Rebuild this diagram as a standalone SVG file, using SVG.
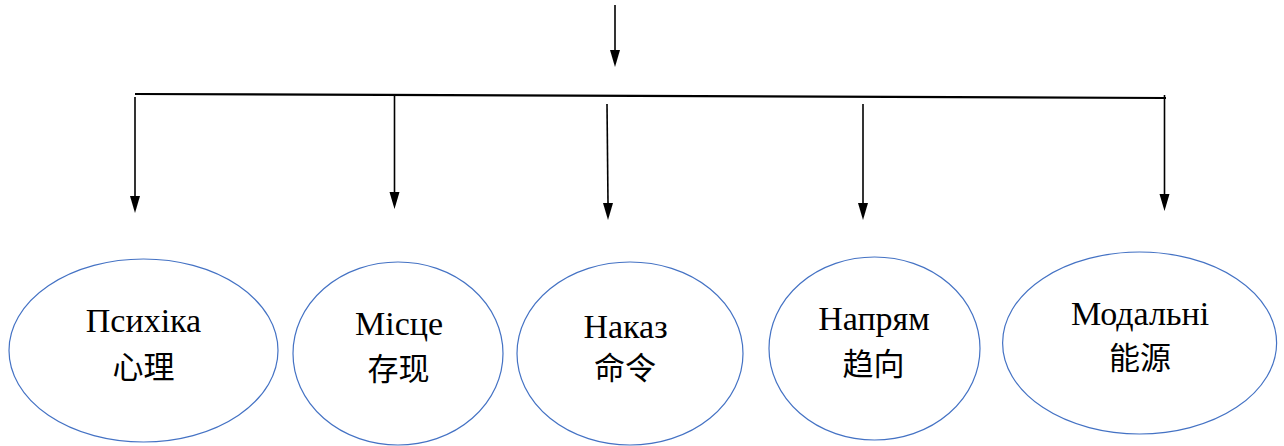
<svg xmlns="http://www.w3.org/2000/svg" width="1284" height="446" viewBox="0 0 1284 446">
<defs>
<style>
.conn{stroke:#000;stroke-width:1.6;fill:none}
.bar{stroke:#000;stroke-width:2.2;fill:none}
.head{fill:#000}
.node ellipse{fill:#fff;stroke:#4472C4;stroke-width:1.2}
.lat{font-family:"Liberation Serif","Times New Roman",serif;font-size:34px;fill:#000;text-anchor:middle}
.cjk{font-family:"Liberation Serif","Noto Sans CJK SC",serif;font-size:31px;fill:#000;text-anchor:middle}
</style>
</defs>
<rect width="1284" height="446" fill="#fff"/>
<g id="connectors">
<line class="conn" x1="615" y1="5" x2="615" y2="50"/>
<path class="head" d="M610,50 L620,50 L615,67 Z"/>
<line class="bar" x1="135" y1="94" x2="1166" y2="98"/>
<line class="conn" x1="135" y1="97" x2="135" y2="196"/>
<path class="head" d="M130,196 L140,196 L135,213 Z"/>
<line class="conn" x1="394.5" y1="95" x2="394.5" y2="192"/>
<path class="head" d="M389.5,192 L399.5,192 L394.5,209 Z"/>
<line class="conn" x1="607" y1="104" x2="608" y2="203"/>
<path class="head" d="M603,203 L613,203 L608,220 Z"/>
<line class="conn" x1="863" y1="104" x2="863" y2="203"/>
<path class="head" d="M858,203 L868,203 L863,220 Z"/>
<line class="conn" x1="1164.5" y1="95" x2="1164.5" y2="194"/>
<path class="head" d="M1159.5,194 L1169.5,194 L1164.5,211 Z"/>
</g>
<g id="node1" class="node">
<ellipse cx="143.5" cy="350.5" rx="134.5" ry="91.5"/>
<text class="lat" x="143.5" y="332">Психіка</text>
<text class="cjk" x="143.5" y="378">心理</text>
</g>
<g id="node2" class="node">
<ellipse cx="398" cy="353.5" rx="105" ry="91.5"/>
<text class="lat" x="399" y="335">Місце</text>
<text class="cjk" x="398.5" y="380">存现</text>
</g>
<g id="node3" class="node">
<ellipse cx="630" cy="353.5" rx="113" ry="91.5"/>
<text class="lat" x="625.5" y="338">Наказ</text>
<text class="cjk" x="625" y="379">命令</text>
</g>
<g id="node4" class="node">
<ellipse cx="874.5" cy="348.5" rx="105.5" ry="91.5"/>
<text class="lat" x="874" y="330">Напрям</text>
<text class="cjk" x="873.5" y="375">趋向</text>
</g>
<g id="node5" class="node">
<ellipse cx="1139.6" cy="343" rx="137" ry="91"/>
<text class="lat" x="1140" y="325">Модальні</text>
<text class="cjk" x="1140" y="369">能源</text>
</g>
</svg>
